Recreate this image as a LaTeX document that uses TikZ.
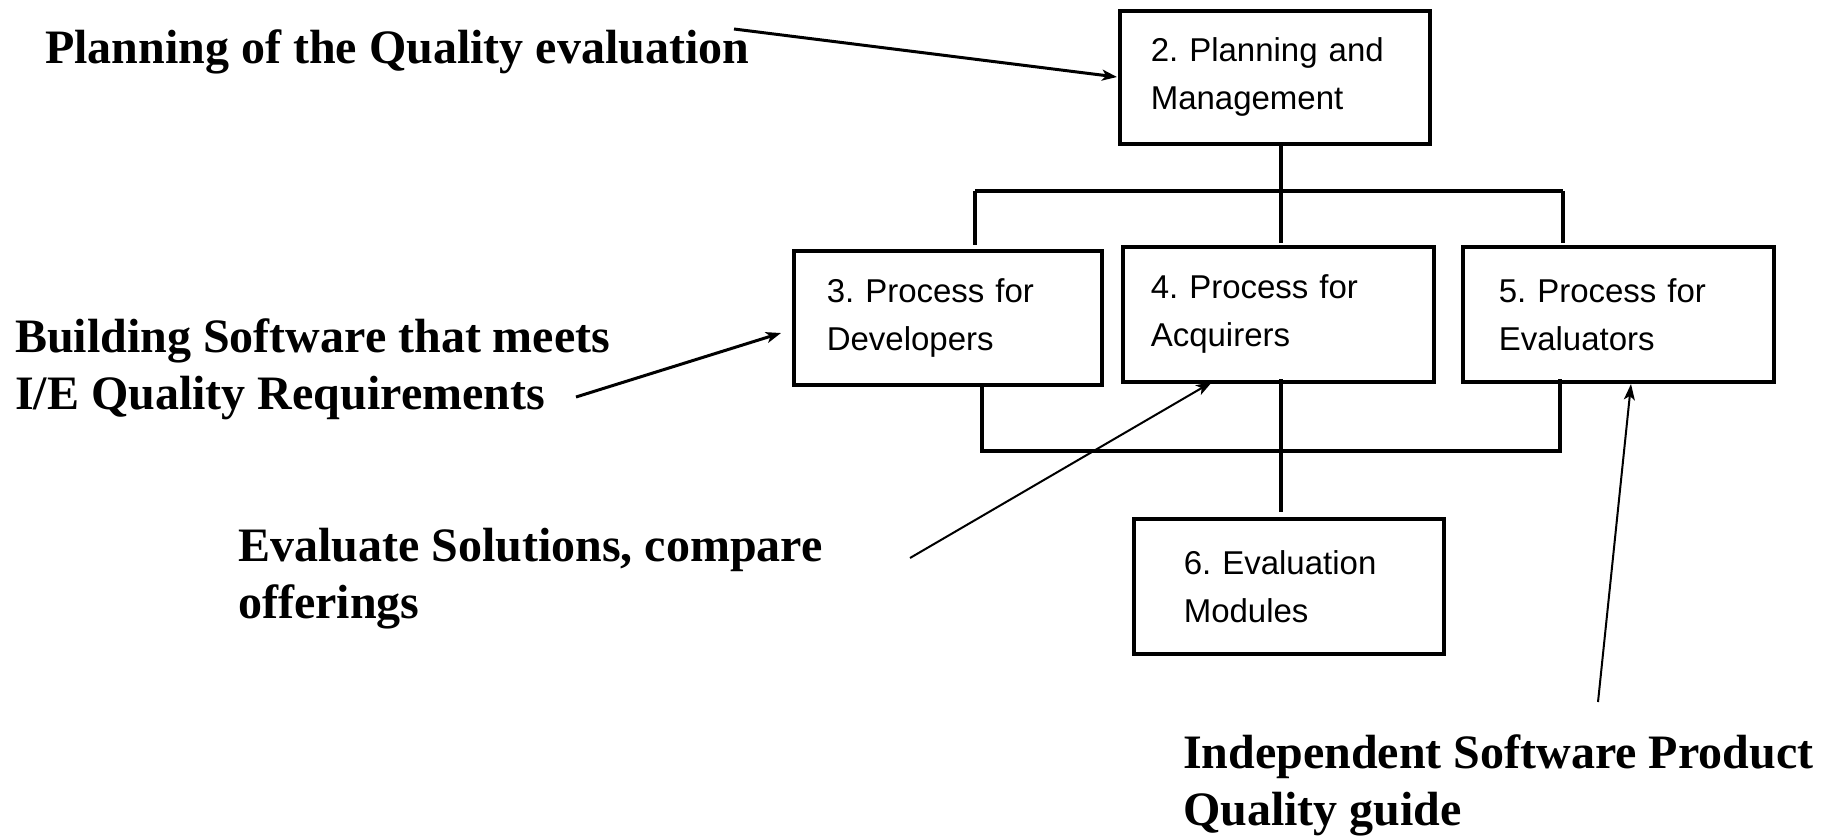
\documentclass[tikz,border=0pt]{standalone}
\usepackage{fontspec}
\setmainfont{Liberation Serif}
\newfontfamily\arialf{Liberation Sans}
\usetikzlibrary{arrows.meta}
\frenchspacing
\begin{document}
\begin{tikzpicture}[x=1pt,y=-1pt,
  pbox/.style={draw, line width=3.5pt, anchor=north west, align=left,
    font=\arialf\fontsize{33}{48}\selectfont, inner ysep=0pt},
  lbl/.style={anchor=base west, align=left, inner sep=0pt,
    font=\bfseries\fontsize{48}{57}\selectfont},
  conn/.style={line width=3.5pt},
  thickarrow/.style={line width=3pt, -{Stealth[length=15pt,width=11pt,inset=4pt]}},
  thinarrow/.style={line width=2pt, -{Stealth[length=16pt,width=11pt,inset=4pt]}}]
\useasboundingbox (0,0) rectangle (1839,839);
\fill[white] (0,0) rectangle (1839,839);

\node[pbox, minimum width=310pt, minimum height=133pt, inner xsep=31pt, text width=248pt] (p2) at (1118,9) {2. Planning and\\Management};
\node[pbox, minimum width=308pt, minimum height=134pt, inner xsep=33pt, text width=242pt] (p3) at (792,249) {3. Process for\\Developers};
\node[pbox, minimum width=311pt, minimum height=135pt, inner xsep=28pt, text width=255pt] (p4) at (1121,245) {4. Process for\\Acquirers};
\node[pbox, minimum width=311pt, minimum height=135pt, inner xsep=36pt, text width=239pt] (p5) at (1461,245) {5. Process for\\Evaluators};
\node[pbox, minimum width=310pt, minimum height=135pt, inner xsep=50pt, text width=210pt] (p6) at (1132,517) {6. Evaluation\\Modules};

% top tree
\coordinate (tl) at (975,191);
\coordinate (tm) at (1281,191);
\coordinate (tr) at (1563,191);
\coordinate (t2) at (1281,142);
\draw[conn] (t2) -- (tm);
\draw[conn] (tl) -- (tr);
\draw[conn] (tl) -- (975,245);
\draw[conn] (tm) -- (1281,243);
\draw[conn] (tr) -- (1563,243);

% bottom tree
\coordinate (bl) at (982,451);
\coordinate (br) at (1560,451);
\draw[conn] (982,383) -- (bl) -- (br) -- (1560,379);
\draw[conn] (1281,379) -- (1281,512);

% labels (anchor at baseline of last line)
\node[lbl] (l1) at (45,63) {Planning of the Quality evaluation};
\node[lbl] (l2) at (15,409) {Building Software that meets\\I/E Quality Requirements};
\node[lbl] (l3) at (238,618) {Evaluate Solutions, compare\\offerings};
\node[lbl] (l4) at (1183,825) {Independent Software Product\\Quality guide};

\coordinate (a1) at (734,29);
\coordinate (a2) at (576,397);
\coordinate (a3) at (910,558);
\coordinate (a4) at (1598,702);
\draw[thickarrow] (a1) -- (1117,77);
\draw[thickarrow] (a2) -- (781,333);
\draw[thinarrow] (a3) -- (1212,382);
\draw[thinarrow] (a4) -- (1631,384);
\end{tikzpicture}
\end{document}
